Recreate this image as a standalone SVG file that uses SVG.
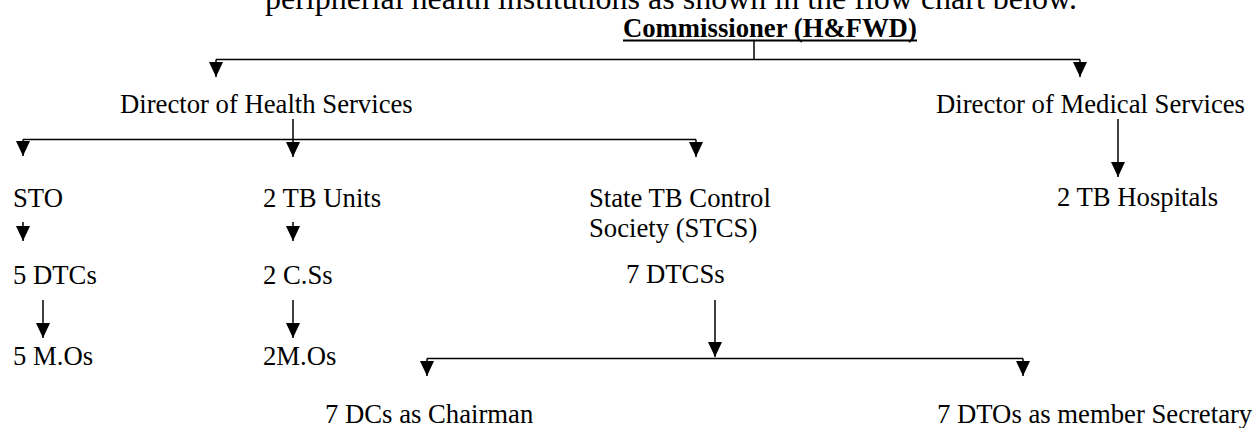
<svg xmlns="http://www.w3.org/2000/svg" width="1252" height="428" viewBox="0 0 1252 428">
<style>
text{font-family:"Liberation Serif","Times New Roman",serif;font-size:26.7px;fill:#000}
.big{font-size:32px}
.bold{font-weight:bold}
.ln{stroke:#000;stroke-width:1.5;fill:none}
.ar{stroke:#000;stroke-width:1.5;fill:none;marker-end:url(#ah)}
</style>
<defs>
<marker id="ah" viewBox="0 0 15 14" refX="15" refY="7" markerWidth="15" markerHeight="14" markerUnits="userSpaceOnUse" orient="auto">
<path d="M0,0 L15,7 L0,14 z" fill="#000"/>
</marker>
</defs>
<rect width="1252" height="428" fill="#fff"/>
<text class="big" x="265" y="9">peripherial health institutions as shown in the flow chart below.</text>
<g id="connectors">
<path class="ln" d="M754,40 V59.5 M216,59.5 H1080"/>
<path class="ar" d="M216,59.5 V77"/>
<path class="ar" d="M1080,59.5 V77"/>
<path class="ln" d="M23,139.5 H696"/>
<path class="ar" d="M293,119 V157"/>
<path class="ar" d="M23,139.5 V156"/>
<path class="ar" d="M696,139.5 V157"/>
<path class="ar" d="M1118,119 V177"/>
<path class="ar" d="M23,222 V241"/>
<path class="ar" d="M293,222 V241"/>
<path class="ar" d="M43,300 V338"/>
<path class="ar" d="M293,300 V338"/>
<path class="ar" d="M715,300 V357"/>
<path class="ln" d="M427,358.5 H1023"/>
<path class="ar" d="M427,358.5 V376"/>
<path class="ar" d="M1023,358.5 V376"/>
</g>
<g id="commissioner">
<text class="bold" x="623" y="37">Commissioner (H&amp;FWD)</text>
<line x1="623" y1="40.5" x2="917" y2="40.5" stroke="#000" stroke-width="2"/>
</g>
<g id="dhs"><text x="120" y="113">Director of Health Services</text></g>
<g id="dms"><text x="936" y="113">Director of Medical Services</text></g>
<g id="sto"><text x="13" y="207">STO</text></g>
<g id="tbunits"><text x="263" y="207">2 TB Units</text></g>
<g id="stcs"><text x="589" y="207">State TB Control</text><text x="589" y="237">Society (STCS)</text></g>
<g id="tbhospitals"><text x="1057" y="206">2 TB Hospitals</text></g>
<g id="dtcs"><text x="13" y="284">5 DTCs</text></g>
<g id="css"><text x="263" y="284">2 C.Ss</text></g>
<g id="dtcss"><text x="626" y="283">7 DTCSs</text></g>
<g id="mos5"><text x="13" y="365">5 M.Os</text></g>
<g id="mos2"><text x="263" y="365">2M.Os</text></g>
<g id="dcs"><text x="325" y="423">7 DCs as Chairman</text></g>
<g id="dtos"><text x="937" y="423">7 DTOs as member Secretary</text></g>
</svg>
